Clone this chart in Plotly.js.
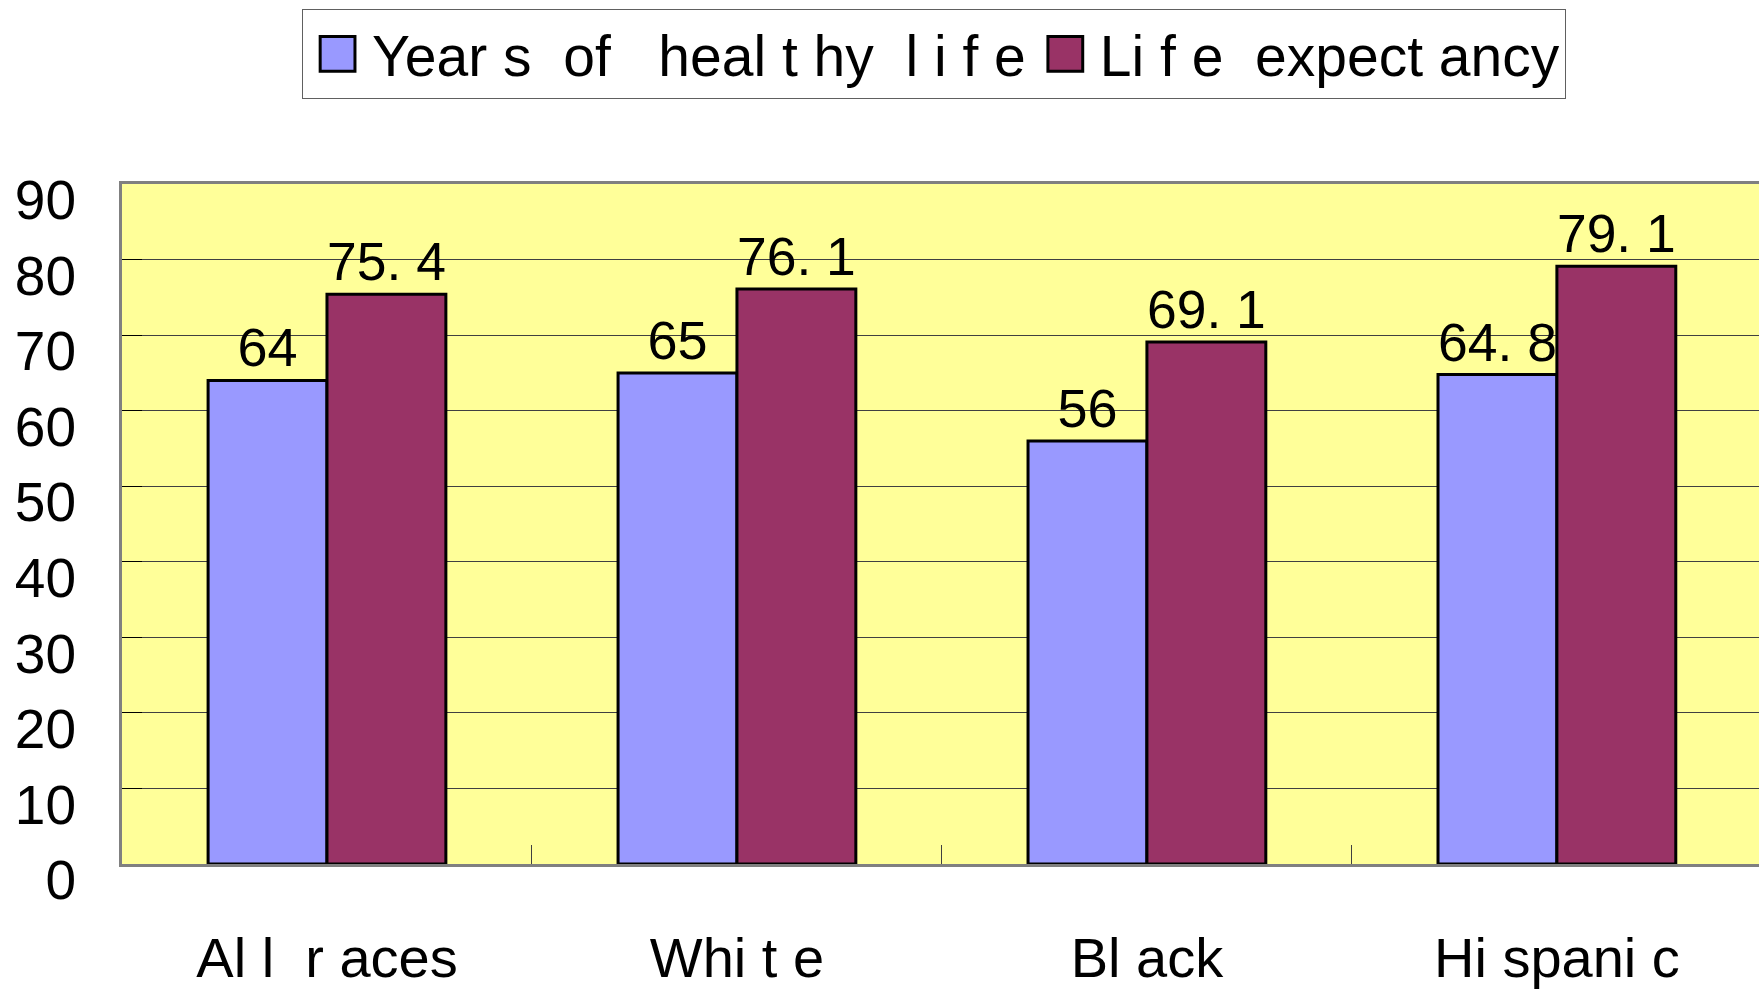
<!DOCTYPE html>
<html>
<head>
<meta charset="utf-8">
<script src="https://cdn.plot.ly/plotly-3.0.1.min.js"></script>
<style>html,body{margin:0;padding:0;overflow:hidden;background:#fff}</style>
</head>
<body>
<div id="chart" style="width:1759px;height:993px"></div>
<script>
const categories = ["Al l  r aces", "Whi t e", "Bl ack", "Hi spani c"];
const seriesNames = ["Year s  of   heal t hy  l i f e", "Li f e  expect ancy"];
const healthyYears = [64, 65, 56, 64.8];
const lifeExpectancy = [75.4, 76.1, 69.1, 79.1];
const yTicks = [0, 10, 20, 30, 40, 50, 60, 70, 80, 90];

const nb = s => s.replace(/ /g, "\u00A0");
const fmt = v => nb(String(v).replace(".", ". "));
const FONT = "Liberation Sans, Arial, sans-serif";

function barTrace(name, values, color) {
  return {
    type: "bar",
    name: nb(name),
    x: categories.map(nb),
    y: values,
    text: values.map(fmt),
    texttemplate: "%{text}",
    textposition: "outside",
    cliponaxis: false,
    textfont: {family: FONT, size: 54, color: "#000"},
    marker: {color: color, line: {color: "#000", width: 3}},
    hoverinfo: "none"
  };
}

const data = [
  barTrace(seriesNames[0], healthyYears, "#9999FF"),
  barTrace(seriesNames[1], lifeExpectancy, "#993366")
];

const layout = {
  width: 1759, height: 993,
  margin: {l: 122, r: 0, t: 184, b: 129},
  paper_bgcolor: "#ffffff",
  plot_bgcolor: "#FFFF99",
  barmode: "group",
  bargap: 0.42,
  bargroupgap: 0,
  font: {family: FONT, color: "#000"},
  showlegend: true,
  legend: {
    orientation: "h",
    x: 0.110, xanchor: "left",
    y: 1.257, yanchor: "top",
    bgcolor: "#ffffff",
    bordercolor: "#606060",
    borderwidth: 1,
    font: {family: FONT, size: 57, color: "#000"},
    itemwidth: 59,
    traceorder: "normal"
  },
  xaxis: {
    type: "category",
    range: [-0.5, 3.493],
    showline: true, linecolor: "#808080", linewidth: 3, mirror: true,
    ticks: "inside", tickson: "boundaries", ticklen: 19, tickcolor: "#404040", tickwidth: 1,
    showgrid: false,
    ticklabelstandoff: 43,
    tickfont: {family: FONT, size: 56, color: "#000"},
    zeroline: false, fixedrange: true
  },
  yaxis: {
    range: [0, 90],
    tickvals: yTicks,
    ticktext: yTicks.map(String),
    showline: true, linecolor: "#808080", linewidth: 3,
    ticks: "inside", ticklen: 20, tickcolor: "#000", tickwidth: 1,
    showgrid: true, gridcolor: "#404040", gridwidth: 1,
    zeroline: false,
    ticklabelstandoff: 32,
    ticklabelshift: 16,
    tickfont: {family: FONT, size: 55, color: "#000"},
    fixedrange: true
  }
};

Plotly.newPlot("chart", data, layout, {staticPlot: true}).then(() => {
  document.querySelectorAll(".legend .legendpoints path").forEach(p => {
    const t = p.getAttribute("transform") || "";
    p.setAttribute("transform", t + " scale(2.9)");
    p.style.vectorEffect = "non-scaling-stroke";
  });
});
</script>
</body>
</html>
